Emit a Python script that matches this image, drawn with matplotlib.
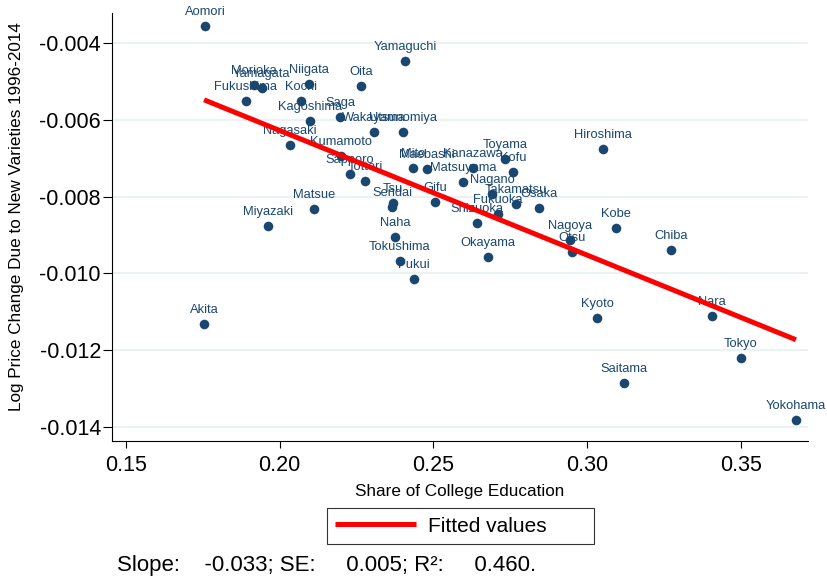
import matplotlib.pyplot as plt
import numpy as np

plt.rcParams['font.family'] = ['Liberation Sans', 'DejaVu Sans']
plt.rcParams['axes.unicode_minus'] = False

# prefectural capitals: share of college education vs. log price change
cities = ["Aomori", "Yamaguchi", "Morioka", "Yamagata", "Niigata", "Oita",
          "Fukushima", "Kochi", "Kagoshima", "Saga", "Wakayama", "Utsunomiya",
          "Nagasaki", "Kumamoto", "Sapporo", "Tottori", "Mito", "Maebashi",
          "Kanazawa", "Toyama", "Kofu", "Matsuyama", "Nagano", "Takamatsu",
          "Fukuoka", "Osaka", "Shizuoka", "Okayama", "Nagoya", "Otsu", "Kobe",
          "Hiroshima", "Chiba", "Kyoto", "Nara", "Tokyo", "Saitama", "Yokohama",
          "Akita", "Miyazaki", "Matsue", "Tsu", "Sendai", "Gifu", "Naha",
          "Tokushima", "Fukui"]
college = [0.1757, 0.2407, 0.1916, 0.1942, 0.2095, 0.2264,
           0.1890, 0.2069, 0.2098, 0.2196, 0.2307, 0.2401,
           0.2033, 0.2199, 0.2228, 0.2277, 0.2433, 0.2479,
           0.2628, 0.2733, 0.2759, 0.2596, 0.2690, 0.2768,
           0.2710, 0.2843, 0.2641, 0.2677, 0.2944, 0.2950, 0.3093,
           0.3051, 0.3272, 0.3032, 0.3406, 0.3500, 0.3120, 0.3679,
           0.1754, 0.1962, 0.2111, 0.2368, 0.2365, 0.2505, 0.2375,
           0.2391, 0.2437]
price_change = [-0.00356, -0.00447, -0.00509, -0.00517, -0.00507, -0.00512,
                -0.00551, -0.00551, -0.00603, -0.00593, -0.00632, -0.00632,
                -0.00666, -0.00694, -0.00741, -0.00759, -0.00726, -0.00728,
                -0.00726, -0.00702, -0.00736, -0.00762, -0.00793, -0.00819,
                -0.00845, -0.00830, -0.00869, -0.00957, -0.00913, -0.00944, -0.00882,
                -0.00676, -0.00939, -0.01116, -0.01111, -0.01220, -0.01285, -0.01382,
                -0.01132, -0.00877, -0.00832, -0.00817, -0.00827, -0.00814, -0.00905,
                -0.00968, -0.01015]

x_ticks = [0.15, 0.20, 0.25, 0.30, 0.35]
y_ticks = [-0.004, -0.006, -0.008, -0.010, -0.012, -0.014]
stats_text = "Slope:    -0.033; SE:     0.005; R\u00b2:     0.460."

navy = '#1a476f'

fig = plt.figure(figsize=(8.28, 5.79), dpi=100)
ax = fig.add_axes([112/828, 1 - 441/579, 696/828, 428/579])

ax.scatter(college, price_change, s=48, color=navy, linewidths=0, zorder=3)
for name, x, y in zip(cities, college, price_change):
    ax.annotate(name, (x, y), xytext=(0, 10), textcoords='offset points',
                ha='center', va='center', fontsize=9.3, color=navy, zorder=3)

# linear fit over the data range
xs = np.array([min(college), max(college)])
slope, intercept = np.polyfit(college, price_change, 1)
fit_line, = ax.plot(xs, slope * xs + intercept, color='red', lw=3.6, zorder=5,
                    solid_capstyle='butt', label='Fitted values')

ax.set_xlim(0.14545, 0.3718)
ax.set_ylim(-0.014365, -0.00322)
ax.set_xticks(x_ticks)
ax.set_xticklabels([f"{t:.2f}" for t in x_ticks])
ax.set_yticks(y_ticks)
ax.set_yticklabels([f"{t:.3f}" for t in y_ticks])
ax.grid(axis='y', color='#eaf2f3', lw=1.5)
ax.set_axisbelow(True)

for side in ['top', 'right']:
    ax.spines[side].set_visible(False)
for side in ['left', 'bottom']:
    ax.spines[side].set_linewidth(0.8)
    ax.spines[side].set_color('black')
ax.tick_params(axis='y', length=6.5, width=0.8, pad=1.5, labelsize=15.5)
ax.tick_params(axis='x', length=5, width=0.8, pad=5, labelsize=15.5)

ax.set_xlabel("Share of College Education", fontsize=12.3, labelpad=6)
fig.text(17/828, 1 - 217/579, "Log Price Change Due to New Varieties 1996-2014",
         rotation=90, ha='center', va='center', fontsize=12.3)

leg = fig.legend([fit_line], ['Fitted values'], loc='center',
                 bbox_to_anchor=(327/828, 1 - 546/579, 267/828, 40/579),
                 mode='expand', fontsize=15, frameon=True, fancybox=False,
                 edgecolor='black', handlelength=3.85, handletextpad=0.6,
                 borderpad=0.4, borderaxespad=0)
leg.get_frame().set_linewidth(0.8)

fig.text(117/828, 1 - 565/579, stats_text, fontsize=16, ha='left', va='center')

fig.savefig('out.png', dpi=100)
